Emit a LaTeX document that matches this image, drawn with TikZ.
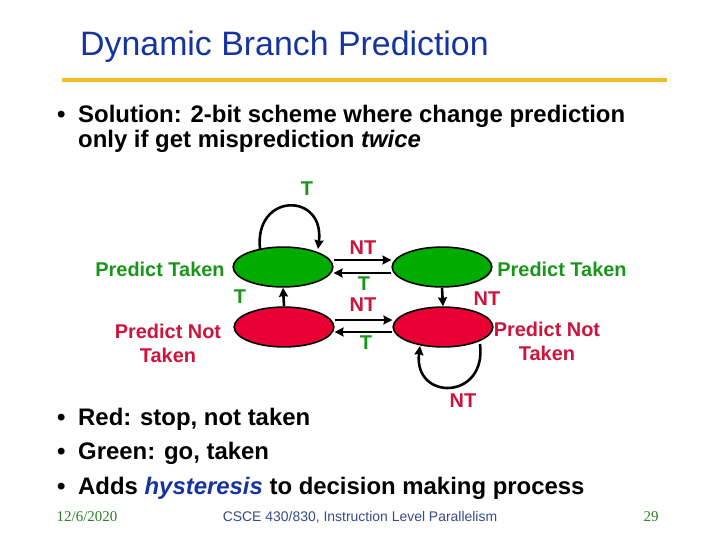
\documentclass[tikz,border=0pt]{standalone}
\usepackage{fontspec}
\setmainfont{Liberation Sans}
\newfontfamily\footserif{Liberation Serif}
\usetikzlibrary{positioning,arrows.meta,shapes.geometric,calc}
\definecolor{titleblue}{RGB}{22,52,160}
\definecolor{ruleyellow}{RGB}{242,190,40}
\definecolor{tkgreen}{RGB}{0,172,0}
\definecolor{tktext}{RGB}{25,150,25}
\definecolor{ntred}{RGB}{232,0,52}
\definecolor{nttext}{RGB}{205,20,60}
\definecolor{footgreen}{RGB}{40,130,40}
\definecolor{footblue}{RGB}{55,75,135}
\tikzset{
  state/.style={ellipse,draw=black,line width=1.6,minimum width=100,minimum height=40,inner sep=0},
  arr/.style={line width=2.6,-{Stealth[length=9,width=9,inset=1]}},
  lbl/.style={inner sep=0,align=center,font=\bfseries\fontsize{20}{24}\selectfont},
  glbl/.style={lbl,text=tktext},
  rlbl/.style={lbl,text=nttext},
  body/.style={inner sep=0,anchor=base west,font=\bfseries\fontsize{24}{29}\selectfont}
}

\begin{document}
\begin{tikzpicture}[x=1bp,y=-1bp]
      \useasboundingbox (0,0) rectangle (720,540);
      \fill[white] (0,0) rectangle (720,540);
      % title and rule
      \node[inner sep=0,anchor=base west,text=titleblue,font=\fontsize{34}{40}\selectfont] (title) at (80,56) {Dynamic Branch Prediction};
      \draw[ruleyellow,line width=4] (62,80) -- (667,80);
      % first bullet
      \node[body] (dot1) at (57,123) {\textbullet};
      \node[body] (sol1) at (78,123) {Solution: 2-bit scheme where change prediction};
      \node[body] (sol2) at (78,148) {only if get misprediction \textit{twice}};
      % states
      \node[state,fill=tkgreen] (tkStrong) at (283,267) {};
      \node[state,fill=tkgreen] (tkWeak) at (442,267) {};
      \node[state,fill=ntred] (ntWeak) at (284,327) {};
      \node[state,fill=ntred] (ntStrong) at (443,327) {};
      % transitions
      \draw[arr] ([yshift=7]tkStrong.east) -- ([yshift=7]tkWeak.west);
      \draw[arr] ([yshift=-6]tkWeak.west) -- ([yshift=-6]tkStrong.east);
      \draw[arr] ([yshift=7]ntWeak.east) -- ([yshift=7]ntStrong.west);
      \draw[arr] ([yshift=-5]ntStrong.west) -- ([yshift=-5]ntWeak.east);
      \draw[arr] (ntWeak.north) -- (tkStrong.south);
      \draw[arr] (tkWeak.south) -- (ntStrong.north);
      \draw[arr] ($(tkStrong.center)+(-23,-18)$) .. controls ($(tkStrong.center)+(-29,-75)$) and ($(tkStrong.center)+(42,-75)$) .. ($(tkStrong.center)+(35,-18)$);
      \draw[arr] ($(ntStrong.center)+(37,17)$) .. controls ($(ntStrong.center)+(44,74)$) and ($(ntStrong.center)+(-30,74)$) .. ($(ntStrong.center)+(-23,19)$);
      % edge labels
      \node[glbl] (loopT) at (307,189) {T};
      \node[rlbl] (topNT) at (363,248) {NT};
      \node[glbl] (topT) at (364,284) {T};
      \node[rlbl] (botNT) at (363,305) {NT};
      \node[glbl] (botT) at (366,343) {T};
      \node[glbl] (upT) at (240,297) {T};
      \node[rlbl] (downNT) at (487,299) {NT};
      \node[rlbl] (loopNT) at (463,401) {NT};
      % state labels
      \node[glbl] (lblTkStrong) at (160,269) {Predict Taken};
      \node[glbl] (lblTkWeak) at (562,269) {Predict Taken};
      \node[rlbl] (lblNtWeak) at (168,343) {Predict Not\\Taken};
      \node[rlbl] (lblNtStrong) at (547,341) {Predict Not\\Taken};
      % lower bullets
      \node[body] (dot2) at (57,425) {\textbullet};
      \node[body] (red) at (78,425) {Red: stop, not taken};
      \node[body] (dot3) at (57,459) {\textbullet};
      \node[body] (green) at (78,459) {Green: go, taken};
      \node[body] (dot4) at (57,494) {\textbullet};
      \node[body] (hyst) at (78,494) {Adds \textcolor{titleblue}{\textit{hysteresis}} to decision making process};
      % footer
      \node[inner sep=0,text=footgreen,font=\footserif\fontsize{15}{18}\selectfont] (date) at (87,517) {12/6/2020};
      \node[inner sep=0,text=footblue,font=\fontsize{14}{17}\selectfont] (course) at (360,517) {CSCE 430/830, Instruction Level Parallelism};
      \node[inner sep=0,text=footgreen,font=\footserif\fontsize{15}{18}\selectfont] (page) at (651,517) {29};
    \end{tikzpicture}
\end{document}
